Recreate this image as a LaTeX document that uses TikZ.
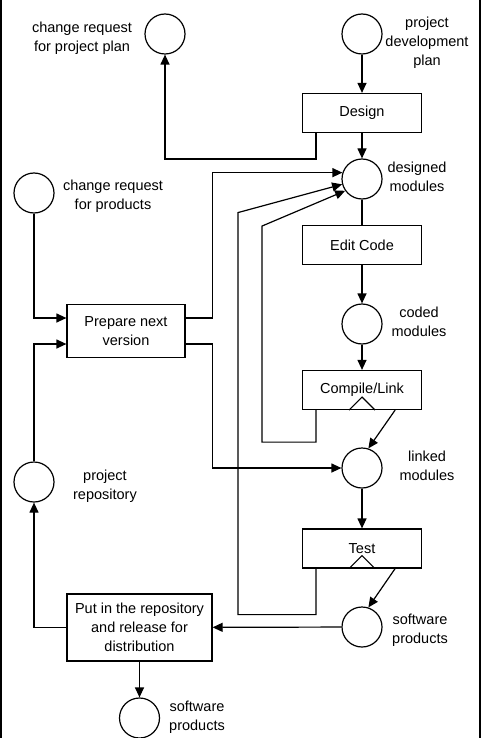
\documentclass[tikz,border=0pt]{standalone}
\usepackage{fontspec}
\setmainfont{Liberation Sans}
\usetikzlibrary{arrows.meta,positioning}

\begin{document}
\begin{tikzpicture}[x=1pt,y=-1pt,
    line width=1.2pt,
    place/.style={draw, circle, minimum size=40pt, inner sep=0pt},
    task/.style={draw, rectangle, minimum width=119pt, minimum height=39pt, align=center, inner sep=0pt},
    note/.style={align=center, inner sep=0pt},
    flow/.style={-{Triangle[length=10pt,width=9pt]}},
    every node/.style={font=\fontsize{14.5}{19}\selectfont}]
  \useasboundingbox (0,0) rectangle (481,738);
  % side bars
  \fill[black] (0,0) rectangle (2,738);
  \fill[black] (478.5,0) rectangle (481,738);

  % places (circles) and their labels
  \node[place] (cpl) at (165,34) {};
  \node[note] (cpl-lbl) at (82,38) {change request\\for project plan};
  \node[place] (pdp) at (362,34) {};
  \node[note] (pdp-lbl) at (427,43) {project\\development\\plan};
  \node[place] (dm) at (362,179) {};
  \node[note] (dm-lbl) at (417,177) {designed\\modules};
  \node[place] (crp) at (34,193) {};
  \node[note] (crp-lbl) at (113,196) {change request\\for products};
  \node[place] (cm) at (362,324) {};
  \node[note] (cm-lbl) at (419,322) {coded\\modules};
  \node[place] (lm) at (362,468) {};
  \node[note] (lm-lbl) at (427,466) {linked\\modules};
  \node[place] (repo) at (34,482) {};
  \node[note] (repo-lbl) at (105,486) {project\\repository};
  \node[place] (sp) at (362,627) {};
  \node[note] (sp-lbl) at (420,630) {software\\products};
  \node[place] (sp2) at (139.5,718) {};
  \node[note] (sp2-lbl) at (197,717) {software\\products};

  % tasks (boxes)
  \node[task] (design) at (362,113) {Design};
  \node[task] (edit) at (362,245) {Edit Code};
  \node[task] (compile) at (362,390) {Compile/Link};
  \node[task] (test) at (362,548.5) {Test};
  \node[task, minimum width=118pt, minimum height=53pt] (prep) at (126,331) {Prepare next\\version};
  \node[task, minimum width=145pt, minimum height=67pt] (put) at (139.5,627.5) {Put in the repository\\and release for\\distribution};

  % small triangles on the bottom edge
  \draw ([xshift=-13]compile.south) -- ([yshift=13]compile.south) -- ([xshift=13]compile.south);
  \draw ([xshift=-13]test.south) -- ([yshift=13]test.south) -- ([xshift=13]test.south);

  % main line
  \draw[flow] (pdp) -- (design);
  \draw[flow] (design) -- (dm);
  \draw (dm) -- (edit);
  \draw[flow] (edit) -- (cm);
  \draw[flow] (cm) -- (compile);
  \draw[flow] ([xshift=-27]compile.south east) -- (lm.72);
  \draw[flow] (lm) -- (test);
  \draw[flow] ([xshift=-27]test.south east) -- (sp.72);
  \draw[flow] (sp) -- (put);
  \draw[flow] (put) -- (sp2);

  % feedback loops
  \draw[flow] ([xshift=14]design.south west) -- ++(0,26) -| (cpl.south);
  \draw[flow] ([xshift=14]compile.south west) -- ++(0,32) -- ++(-54,0) -- ++(0,-216) -- (dm.215);
  \draw[flow] ([xshift=14]test.south west) -- ++(0,46) -- ++(-78,0) -- ++(0,-402) -- (dm.195);

  % next version
  \draw[flow] (crp.south) |- ([yshift=13]prep.west);
  \draw[flow] (repo.north) |- ([yshift=-13]prep.west);
  \draw[flow] ([yshift=13]prep.east) -- ++(27,0) |- (dm.162);
  \draw[flow] ([yshift=-13]prep.east) -- ++(27,0) |- (lm.west);
  \draw[flow] (put.west) -| (repo.south);
\end{tikzpicture}
\end{document}
